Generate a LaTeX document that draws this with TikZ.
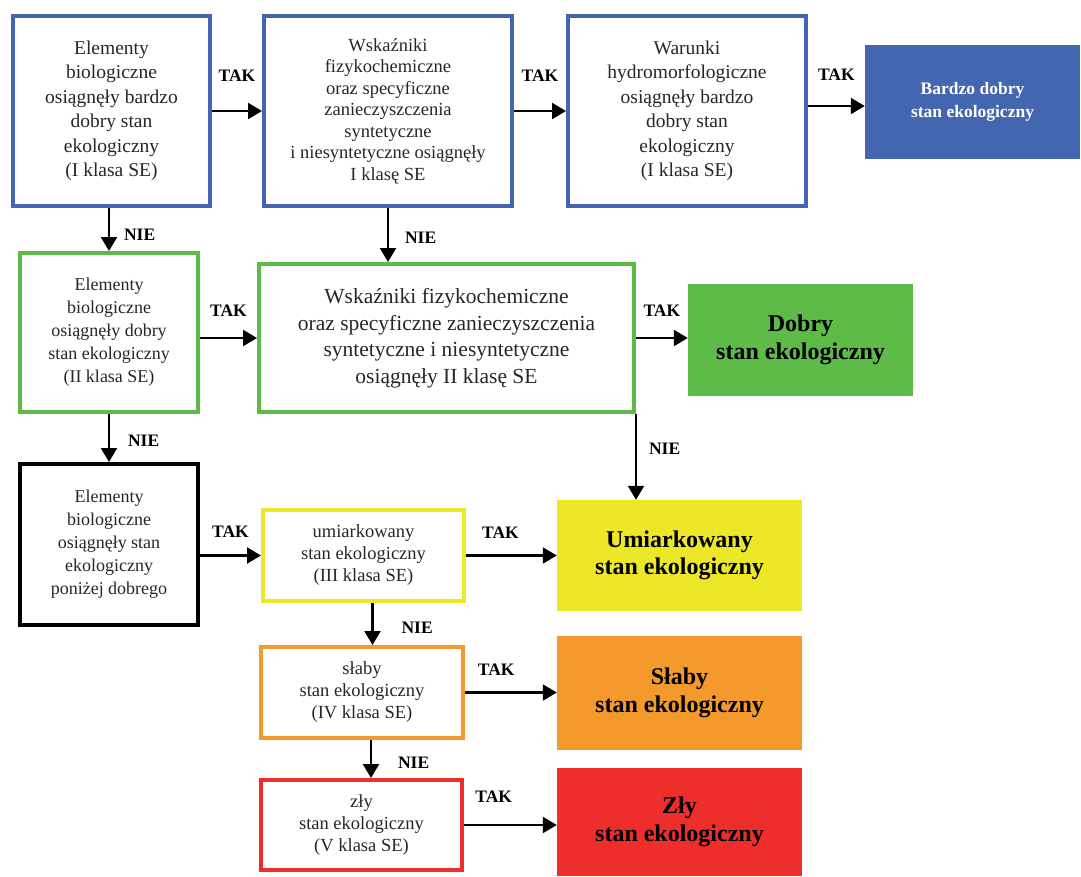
\documentclass[tikz,border=0pt]{standalone}
\usepackage{fontspec}
\setmainfont{Liberation Serif}
\usetikzlibrary{arrows.meta}
\definecolor{niebieski}{RGB}{68,101,175}
\definecolor{zielony}{RGB}{95,187,72}
\definecolor{zolty}{RGB}{236,232,40}
\definecolor{pomarancz}{RGB}{244,154,45}
\definecolor{czerwony}{RGB}{237,46,43}
\begin{document}
\begin{tikzpicture}[x=1pt,y=-1pt,
  box/.style={draw, line width=4pt, align=center, inner sep=0pt, text=black!85},
  wynik/.style={align=center, inner sep=0pt, font=\bfseries\fontsize{24}{27.5}\selectfont},
  strz/.style={line width=2.2pt, -{Triangle[length=14pt,width=16pt]}},
  lab/.style={font=\bfseries\fontsize{17.5}{20}\selectfont, inner sep=0pt}]
\useasboundingbox (0,0) rectangle (1081,876);
% I klasa
\node[box, draw=niebieski, minimum width=197pt, minimum height=190pt, font=\fontsize{19.5}{24.5}\selectfont] (bio1) at (111.5,111) {Elementy\\biologiczne\\osiągnęły bardzo\\dobry stan\\ekologiczny\\(I klasa SE)};
\node[box, draw=niebieski, minimum width=248pt, minimum height=190pt, font=\fontsize{18.5}{21.5}\selectfont] (fiz1) at (388,111) {Wskaźniki\\fizykochemiczne\\oraz specyficzne\\zanieczyszczenia\\syntetyczne\\i niesyntetyczne osiągnęły\\I klasę SE};
\node[box, draw=niebieski, minimum width=238pt, minimum height=190pt, font=\fontsize{19.5}{24.5}\selectfont] (hydro1) at (687,111) {Warunki\\hydromorfologiczne\\osiągnęły bardzo\\dobry stan\\ekologiczny\\(I klasa SE)};
\node[wynik, fill=niebieski, text=white, minimum width=215pt, minimum height=114pt, font=\bfseries\fontsize{17.5}{23}\selectfont] (bdb) at (972.5,102) {Bardzo dobry\\stan ekologiczny};
% II klasa
\node[box, draw=zielony, minimum width=178pt, minimum height=159pt, font=\fontsize{18}{23}\selectfont] (bio2) at (109,332.5) {Elementy\\biologiczne\\osiągnęły dobry\\stan ekologiczny\\(II klasa SE)};
\node[box, draw=zielony, minimum width=375pt, minimum height=148pt, font=\fontsize{21.5}{26.5}\selectfont] (fiz2) at (446.5,338) {Wskaźniki fizykochemiczne\\oraz specyficzne zanieczyszczenia\\syntetyczne i niesyntetyczne\\osiągnęły II klasę SE};
\node[wynik, fill=zielony, minimum width=225pt, minimum height=112pt] (db) at (800.5,340) {Dobry\\stan ekologiczny};
% III-V klasa
\node[box, draw=black, minimum width=178pt, minimum height=161pt, font=\fontsize{18}{23}\selectfont] (bio3) at (109,544.5) {Elementy\\biologiczne\\osiągnęły stan\\ekologiczny\\poniżej dobrego};
\node[box, draw=zolty, minimum width=201pt, minimum height=91pt, font=\fontsize{18.5}{22}\selectfont] (umiar3) at (363.5,555.5) {umiarkowany\\stan ekologiczny\\(III klasa SE)};
\node[wynik, fill=zolty, minimum width=245pt, minimum height=111pt] (umiar) at (679.5,555.5) {Umiarkowany\\stan ekologiczny};
\node[box, draw=pomarancz, minimum width=202pt, minimum height=91pt, font=\fontsize{18.5}{22}\selectfont] (slaby4) at (362,692.5) {słaby\\stan ekologiczny\\(IV klasa SE)};
\node[wynik, fill=pomarancz, minimum width=245pt, minimum height=114pt] (slaby) at (679.5,693) {Słaby\\stan ekologiczny};
\node[box, draw=czerwony, minimum width=201pt, minimum height=90pt, font=\fontsize{18.5}{22}\selectfont] (zly5) at (361.5,825) {zły\\stan ekologiczny\\(V klasa SE)};
\node[wynik, fill=czerwony, minimum width=245pt, minimum height=108pt] (zly) at (679.5,822) {Zły\\stan ekologiczny};
% TAK
\draw[strz] (bio1.east) -- node[lab, above=28pt] {TAK} (bio1.east -| fiz1.west);
\draw[strz] (fiz1.east) -- node[lab, above=28pt] {TAK} (fiz1.east -| hydro1.west);
\draw[strz] ([yshift=-4pt]bdb.west -| hydro1.east) -- node[lab, above=24pt] {TAK} ([yshift=-4pt]bdb.west);
\draw[strz] (fiz2.west -| bio2.east) -- node[lab, above=20pt] {TAK} (fiz2.west);
\draw[strz] (fiz2.east) -- node[lab, above=20pt] {TAK} (fiz2.east -| db.west);
\draw[strz] (umiar3.west -| bio3.east) -- node[lab, above=17pt] {TAK} (umiar3.west);
\draw[strz] (umiar3.east) -- node[lab, above=16pt, pos=.38] {TAK} (umiar.west);
\draw[strz] (slaby4.east) -- node[lab, above=16pt, pos=.34] {TAK} (slaby4.east -| slaby.west);
\draw[strz] (zly5.east) -- node[lab, above=21pt, pos=.32] {TAK} (zly5.east -| zly.west);
% NIE
\draw[strz] (bio2.north |- bio1.south) -- node[lab, right=14pt, pos=.62] {NIE} (bio2.north);
\draw[strz] (fiz1.south) -- node[lab, right=16pt, pos=.55] {NIE} (fiz1.south |- fiz2.north);
\draw[strz] (bio2.south) -- node[lab, right=18pt, pos=.55] {NIE} (bio2.south |- bio3.north);
\draw[strz] (fiz2.south east) -- node[lab, right=12pt, pos=.4] {NIE} (fiz2.south east |- umiar.north);
\draw[strz] ([xshift=9pt]umiar3.south) -- node[lab, right=28pt, pos=.6] {NIE} ([xshift=9pt]umiar3.south |- slaby4.north);
\draw[strz] ([xshift=9pt]slaby4.south) -- node[lab, right=26pt, pos=.6] {NIE} ([xshift=9pt]slaby4.south |- zly5.north);
\end{tikzpicture}
\end{document}
